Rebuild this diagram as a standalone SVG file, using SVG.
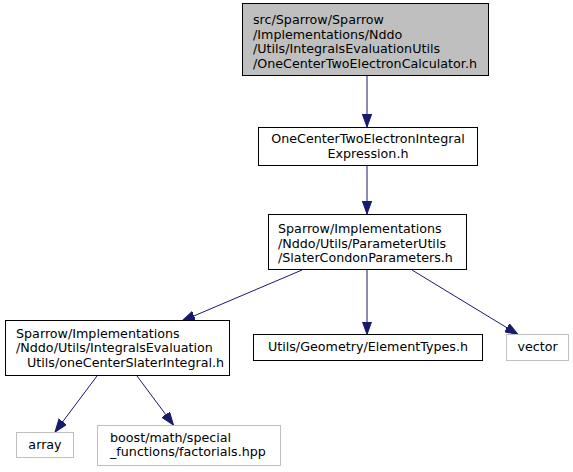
<svg xmlns="http://www.w3.org/2000/svg" width="573" height="472" viewBox="0 0 573 472">
<style>
  .node rect { fill: #ffffff; stroke: #000000; stroke-width: 1; }
  .node.root rect { fill: #bfbfbf; }
  .node.ext rect { stroke: #bfbfbf; }
  text { font-family: "DejaVu Sans", "Liberation Sans", sans-serif; font-size: 12.7px; fill: #000000; }
  .c { text-anchor: middle; }
  .edge { stroke: #191970; stroke-width: 1; fill: none; marker-end: url(#arr); }
</style>
<defs>
  <marker id="arr" markerUnits="userSpaceOnUse" markerWidth="14" markerHeight="10" refX="13" refY="4.7" orient="auto">
    <path d="M0,0 L13,4.7 L0,9.4 Z" fill="#191970" stroke="#191970" stroke-width="1"/>
  </marker>
</defs>
<rect width="573" height="472" fill="#ffffff"/>
<g id="edges">
  <line class="edge" x1="367" y1="76" x2="367" y2="127"/>
  <line class="edge" x1="367" y1="166" x2="367" y2="214"/>
  <line class="edge" x1="302" y1="270" x2="182" y2="321"/>
  <line class="edge" x1="367" y1="270" x2="367" y2="334.5"/>
  <line class="edge" x1="412" y1="270" x2="518" y2="334.5"/>
  <line class="edge" x1="97" y1="376" x2="55" y2="432"/>
  <line class="edge" x1="137" y1="376" x2="173.5" y2="425"/>
</g>
<g id="node_calculator" class="node root">
  <rect x="242.5" y="3.5" width="246" height="72"/>
  <text x="253" y="24">src/Sparrow/Sparrow</text>
  <text x="253" y="38.5">/Implementations/Nddo</text>
  <text x="253" y="53">/Utils/IntegralsEvaluationUtils</text>
  <text x="253" y="67.5">/OneCenterTwoElectronCalculator.h</text>
</g>
<g id="node_integral_expression" class="node">
  <rect x="258.5" y="127.5" width="219" height="38"/>
  <text class="c" x="368" y="143">OneCenterTwoElectronIntegral</text>
  <text class="c" x="368" y="157.5">Expression.h</text>
</g>
<g id="node_slater_condon" class="node">
  <rect x="268.5" y="214.5" width="198" height="55"/>
  <text x="278" y="233">Sparrow/Implementations</text>
  <text x="278" y="247.5">/Nddo/Utils/ParameterUtils</text>
  <text x="278" y="262">/SlaterCondonParameters.h</text>
</g>
<g id="node_one_center_slater" class="node">
  <rect x="5.5" y="320.5" width="224" height="55"/>
  <text x="16" y="337.5">Sparrow/Implementations</text>
  <text x="16" y="352">/Nddo/Utils/IntegralsEvaluation</text>
  <text x="27" y="366.5">Utils/oneCenterSlaterIntegral.h</text>
</g>
<g id="node_element_types" class="node">
  <rect x="253.5" y="334.5" width="229" height="26"/>
  <text class="c" x="368" y="351">Utils/Geometry/ElementTypes.h</text>
</g>
<g id="node_vector" class="node ext">
  <rect x="506.5" y="334.5" width="62" height="26"/>
  <text class="c" x="537.5" y="351">vector</text>
</g>
<g id="node_array" class="node ext">
  <rect x="16.5" y="432.5" width="57" height="25"/>
  <text class="c" x="45" y="449">array</text>
</g>
<g id="node_factorials" class="node ext">
  <rect x="97.5" y="425.5" width="183" height="40"/>
  <text x="110" y="441.5">boost/math/special</text>
  <text x="110" y="456">_functions/factorials.hpp</text>
</g>
</svg>
